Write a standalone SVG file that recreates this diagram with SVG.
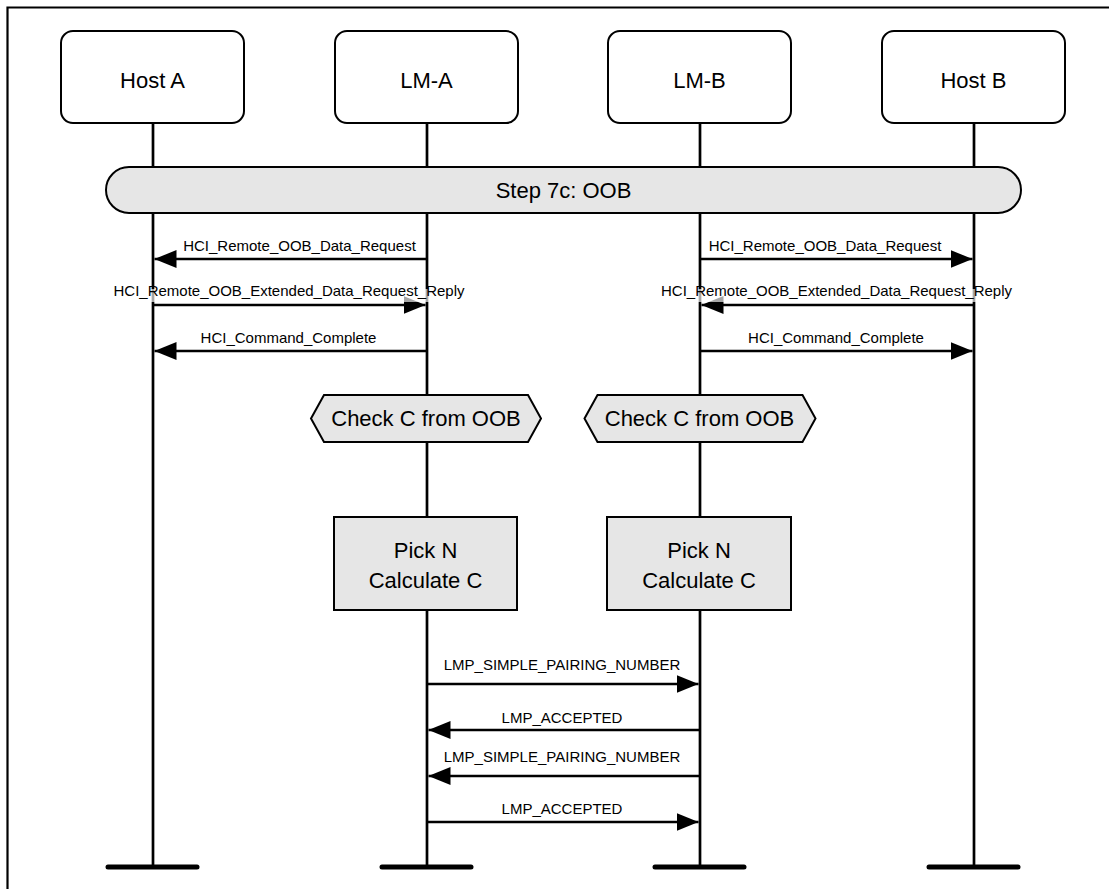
<svg xmlns="http://www.w3.org/2000/svg" width="1109" height="889" viewBox="0 0 1109 889">
<style>
.box{fill:#fff;stroke:#000;stroke-width:2}
.grey{fill:#e6e6e6;stroke:#000;stroke-width:2}
.life{stroke:#000;stroke-width:2.7;fill:none}
.foot{stroke:#000;stroke-width:5;stroke-linecap:round}
.msg{stroke:#000;stroke-width:2.3;fill:none;marker-end:url(#ah)}
.t{font-family:"Liberation Sans",Arial,sans-serif;font-size:22px;text-anchor:middle;fill:#000}
.m{font-family:"Liberation Sans",Arial,sans-serif;font-size:15px;text-anchor:middle;fill:#000}
.lbg{fill:#fff;fill-opacity:0.65}
</style>
<defs>
<marker id="ah" markerUnits="userSpaceOnUse" markerWidth="22" markerHeight="18" refX="22" refY="9" orient="auto">
<path d="M0,0 L22,9 L0,18 z" fill="#000"/>
</marker>
</defs>
<rect width="1109" height="889" fill="#fff"/>
<path d="M7.5,889 V7.5 H1109" fill="none" stroke="#000" stroke-width="2.2"/>

<g id="lifelines">
<line class="life" x1="153" y1="123" x2="153" y2="867"/>
<line class="life" x1="427" y1="123" x2="427" y2="867"/>
<line class="life" x1="700" y1="123" x2="700" y2="867"/>
<line class="life" x1="974" y1="123" x2="974" y2="867"/>
<line class="foot" x1="108" y1="867" x2="197" y2="867"/>
<line class="foot" x1="382" y1="867" x2="471" y2="867"/>
<line class="foot" x1="655" y1="867" x2="744" y2="867"/>
<line class="foot" x1="929" y1="867" x2="1018" y2="867"/>
</g>

<g id="hostA"><rect class="box" x="61" y="31" width="183" height="92" rx="12"/><text class="t" x="152.5" y="88">Host A</text></g>
<g id="lmA"><rect class="box" x="335" y="31" width="183" height="92" rx="12"/><text class="t" x="426.5" y="88">LM-A</text></g>
<g id="lmB"><rect class="box" x="608" y="31" width="183" height="92" rx="12"/><text class="t" x="699.5" y="88">LM-B</text></g>
<g id="hostB"><rect class="box" x="882" y="31" width="183" height="92" rx="12"/><text class="t" x="973.5" y="88">Host B</text></g>

<g id="step"><rect class="grey" x="106" y="167" width="915" height="46" rx="23"/><text class="t" x="563.5" y="198">Step 7c: OOB</text></g>

<g id="checkA"><path class="grey" d="M311,418.5 L324,395 H528 L541,418.5 L528,442 H324 Z"/><text class="t" x="426" y="426">Check C from OOB</text></g>
<g id="checkB"><path class="grey" d="M584.5,418.5 L597.5,395 H802.5 L815.5,418.5 L802.5,442 H597.5 Z"/><text class="t" x="699.5" y="426">Check C from OOB</text></g>

<g id="pickA"><rect class="grey" x="334" y="517" width="183" height="93"/><text class="t" x="425.5" y="558">Pick N</text><text class="t" x="425.5" y="588">Calculate C</text></g>
<g id="pickB"><rect class="grey" x="607" y="517" width="184" height="93"/><text class="t" x="699" y="558">Pick N</text><text class="t" x="699" y="588">Calculate C</text></g>

<g id="connectors">
<line class="msg" x1="427" y1="259" x2="154.5" y2="259"/>
<text class="m" x="299.5" y="251">HCI_Remote_OOB_Data_Request</text>
<line class="msg" x1="700" y1="259" x2="972.5" y2="259"/>
<text class="m" x="825" y="251">HCI_Remote_OOB_Data_Request</text>

<line class="msg" x1="153" y1="305" x2="425.5" y2="305"/>
<rect class="lbg" x="111" y="289" width="356" height="13"/>
<text class="m" x="289" y="296">HCI_Remote_OOB_Extended_Data_Request_Reply</text>
<line class="msg" x1="974" y1="305" x2="701.5" y2="305"/>
<rect class="lbg" x="659" y="289" width="356" height="13"/>
<text class="m" x="836.5" y="296">HCI_Remote_OOB_Extended_Data_Request_Reply</text>

<line class="msg" x1="427" y1="351" x2="154.5" y2="351"/>
<text class="m" x="288.5" y="343">HCI_Command_Complete</text>
<line class="msg" x1="700" y1="351" x2="972.5" y2="351"/>
<text class="m" x="836" y="343">HCI_Command_Complete</text>

<line class="msg" x1="427" y1="684" x2="698.5" y2="684"/>
<text class="m" x="562" y="670">LMP_SIMPLE_PAIRING_NUMBER</text>
<line class="msg" x1="700" y1="730" x2="428.5" y2="730"/>
<text class="m" x="562" y="722.5">LMP_ACCEPTED</text>
<line class="msg" x1="700" y1="776" x2="428.5" y2="776"/>
<text class="m" x="562" y="762">LMP_SIMPLE_PAIRING_NUMBER</text>
<line class="msg" x1="427" y1="822" x2="698.5" y2="822"/>
<text class="m" x="562" y="814">LMP_ACCEPTED</text>
</g>
</svg>
